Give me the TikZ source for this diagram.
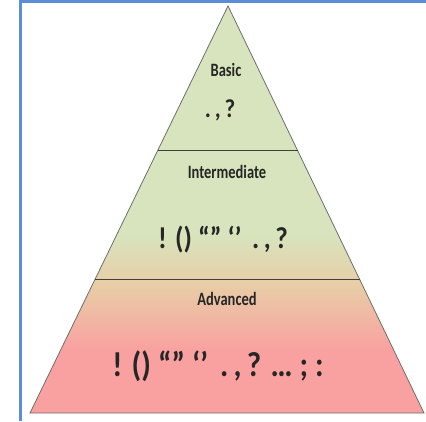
\documentclass[tikz,border=0pt]{standalone}
\usepackage{fontspec}
\setmainfont{Carlito}
\usetikzlibrary{calc}

\definecolor{pyrgreen}{HTML}{D7E4BD}
\definecolor{pyrtan}{HTML}{E8CDA6}
\definecolor{pyrpink}{HTML}{F9A1A0}
\definecolor{frameblue}{HTML}{5B8ED6}
\definecolor{edgegray}{HTML}{6E6E6E}

% texts are set a bit taller than wide
\newcommand{\tallname}[1]{\scalebox{1}[1.3]{#1}}
\newcommand{\tallmarks}[1]{\scalebox{1}[1.12]{#1}}

\begin{document}
\begin{tikzpicture}[
    x=1pt, y=-1pt,
    level/.style={font=\bfseries\fontsize{14.5}{14.5}\selectfont, text=black!85, inner sep=0pt},
    marks/.style={font=\bfseries\fontsize{23}{23}\selectfont, text=black!85, inner sep=0pt},
    midmarks/.style={marks, font=\bfseries\fontsize{27}{27}\selectfont},
    bigmarks/.style={marks, font=\bfseries\fontsize{31}{31}\selectfont},
    divider/.style={draw=black!75, line width=0.9pt},
    side/.style={draw=edgegray, line width=0.8pt},
    frame/.style={draw=frameblue, line width=2.6pt}
]
\useasboundingbox (0,0) rectangle (426,421);

% window frame
\draw[frame] (20.5,421) -- (20.5,1.3) -- (426,1.3);

% corners of the pyramid
\coordinate (apex) at (228,6);
\coordinate (bl) at (30,413);
\coordinate (br) at (424,413);

% level borders
\coordinate (upL) at ($(apex)!0.356!(bl)$);
\coordinate (upR) at ($(apex)!0.356!(br)$);
\coordinate (lowL) at ($(apex)!0.673!(bl)$);
\coordinate (lowR) at ($(apex)!0.673!(br)$);

% colour, green at the top to pink at the base
\begin{scope}
    \clip (apex) -- (bl) -- (br) -- cycle;
    \fill[pyrgreen] (0,0) rectangle (426,235);
    \shade[top color=pyrgreen, bottom color=pyrtan] (0,234.5) rectangle (426,285);
    \shade[top color=pyrtan, bottom color=pyrpink] (0,284.5) rectangle (426,350);
    \fill[pyrpink] (0,349.5) rectangle (426,421);
\end{scope}

\draw[side] (apex) -- (bl) -- (br) -- cycle;
\draw[divider] (upL) -- (upR);
\draw[divider] (lowL) -- (lowR);

% texts
\node[level] (basic) at (226,70) {\tallname{Basic}};
\node[marks] (basicmarks) at (220,110) {\tallmarks{.\,,\,?}};
\node[level] (inter) at (227,172) {\tallname{Intermediate}};
\node[midmarks] (intermarks) at (223,240) {\tallmarks{! () “” ‘’ \,.\,,\,?}};
\node[level] (adv) at (227,299) {\tallname{Advanced}};
\node[bigmarks] (advmarks) at (218,366) {\tallmarks{! () “” ‘’ \,.\,,\,? … ; :}};

\end{tikzpicture}
\end{document}
